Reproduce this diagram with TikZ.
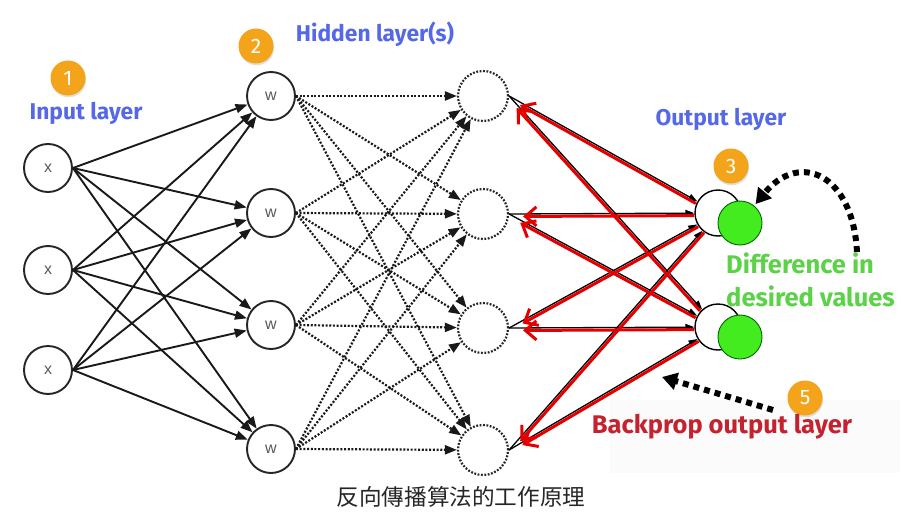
\documentclass[tikz,border=0pt]{standalone}
\usepackage{fontspec}
\setmainfont{Liberation Sans}
\newfontfamily\lab{Fira Sans}
\newfontfamily\cjk{Noto Sans CJK TC}
\usetikzlibrary{arrows.meta,calc,shadows}
\definecolor{badgeC}{RGB}{243,164,26}
\definecolor{blueC}{RGB}{84,104,232}
\definecolor{greenT}{RGB}{92,210,72}
\definecolor{greenF}{RGB}{66,236,30}
\definecolor{redT}{RGB}{196,34,46}
\definecolor{redA}{RGB}{228,0,0}
\begin{document}
\begin{tikzpicture}[x=1pt,y=-1pt,
  inode/.style={circle, draw=black!85, line width=1.9pt, minimum size=48pt, inner sep=0pt,
     font=\fontsize{16}{16}\selectfont, text=black!65},
  hnode/.style={circle, draw=black!85, line width=2.2pt, dash pattern=on 1.8pt off 1.6pt,
     minimum size=50pt, inner sep=0pt},
  onode/.style={circle, draw=black, line width=1.4pt, fill=white, minimum size=46pt, inner sep=0pt},
  gnode/.style={circle, draw=green!40!black, line width=0.9pt, fill=greenF, minimum size=44pt, inner sep=0pt},
  badge/.style={circle, fill=badgeC, text=white, minimum size=35pt, inner sep=0pt,
     font=\lab\fontsize{21}{21}\selectfont,
     drop shadow={shadow xshift=0.6pt, shadow yshift=-1.8pt, opacity=0.25}},
  lbl/.style={font=\lab\bfseries\fontsize{22.8}{23}\selectfont, inner sep=0pt},
  lblb/.style={font=\lab\bfseries\fontsize{25.5}{26}\selectfont, inner sep=0pt},
  solidarrow/.style={draw=black!90, line width=1.9pt, -{Triangle[length=12pt,width=9pt]}},
  dotarrow/.style={draw=black!90, line width=2.2pt, dash pattern=on 2pt off 1.7pt,
     -{Triangle[length=12pt,width=9pt]}},
  fwd/.style={draw=black, line width=1.3pt, -{Triangle[length=9pt,width=6.5pt]}},
  back/.style={draw=redA, line width=3pt, -{Straight Barb[length=11pt,width=19pt,line width=3pt]}},
  bigdot/.style={draw=black, line width=6pt, dash pattern=on 6pt off 5pt,
     -{Triangle[length=15pt,width=17pt]}}
]
\useasboundingbox (0,0) rectangle (918,527);
\fill[white] (0,0) rectangle (918,527);
\fill[black!1.5] (610,400) rectangle (900,473);

% input layer
\node[inode] (x1) at (48,168) {x};
\node[inode] (x2) at (48,270) {x};
\node[inode] (x3) at (48,370) {x};
% hidden layer 1
\node[inode] (w1) at (271,96) {w};
\node[inode] (w2) at (271,213) {w};
\node[inode] (w3) at (271,325) {w};
\node[inode] (w4) at (271,449) {w};
% hidden layer 2
\node[hnode] (h1) at (483,96) {};
\node[hnode] (h2) at (483,214) {};
\node[hnode] (h3) at (483,328) {};
\node[hnode] (h4) at (483,450) {};
% output layer
\node[onode] (o1) at (718,213) {};
\node[onode] (o2) at (718,327) {};

% input -> hidden 1
\foreach \i in {1,2,3}{
  \foreach \j in {1,2,3,4}{
    \draw[solidarrow] (x\i.east) -- (w\j);
  }
}
% hidden 1 -> hidden 2
\foreach \i in {1,2,3,4}{
  \foreach \j in {1,2,3,4}{
    \draw[dotarrow] (w\i.east) -- (h\j);
  }
}
% hidden 2 -> output (forward)
\foreach \i in {1,2,3,4}{
  \foreach \j in {1,2}{
    \draw[fwd] (h\i.east) -- (o\j);
  }
}
% backprop (red)
\foreach \i in {1,2,3,4}{
  \foreach \j in {1,2}{
    \draw[back] ($(o\j)!24pt!(h\i.east)!2.5pt!90:(h\i.east)$) --
                ($(h\i.east)!14pt!(o\j)!2.5pt!-90:(o\j)$);
  }
}

\node[gnode] (g1) at (740,223) {};
\node[gnode] (g2) at (740,337) {};

% badges
\node[badge] (b1) at (68,78) {1};
\node[badge] (b2) at (256,46) {2};
\node[badge] (b3) at (731,166) {3};
\node[badge] (b5) at (805,398) {5};

% labels
\node[lbl, text=blueC] (lin) at (86,113) {Input layer};
\node[lbl, text=blueC] (lhid) at (375,34) {Hidden layer(s)};
\node[lbl, text=blueC] (lout) at (721,119) {Output layer};
\node[lblb, text=greenT, anchor=west] (ld1) at (726,263) {Difference in};
\node[lblb, text=greenT, anchor=west] (ld2) at (726,296) {desired values};
\node[lblb, text=redT] (lbp) at (722,427) {Backprop output layer};

% dotted callout arrows
\coordinate (c1) at (857,252);
\draw[bigdot, shorten >=2pt] (c1) .. controls (853,175) and (800,150) .. (g1);
\coordinate (c2) at (773,410);
\coordinate (c3) at (662,377);
\draw[bigdot] (c2) -- (c3);

% caption
\node[font=\cjk\fontsize{22.6}{23}\selectfont, text=black!85] (cap) at (461,497) {反向傳播算法的工作原理};
\end{tikzpicture}
\end{document}
